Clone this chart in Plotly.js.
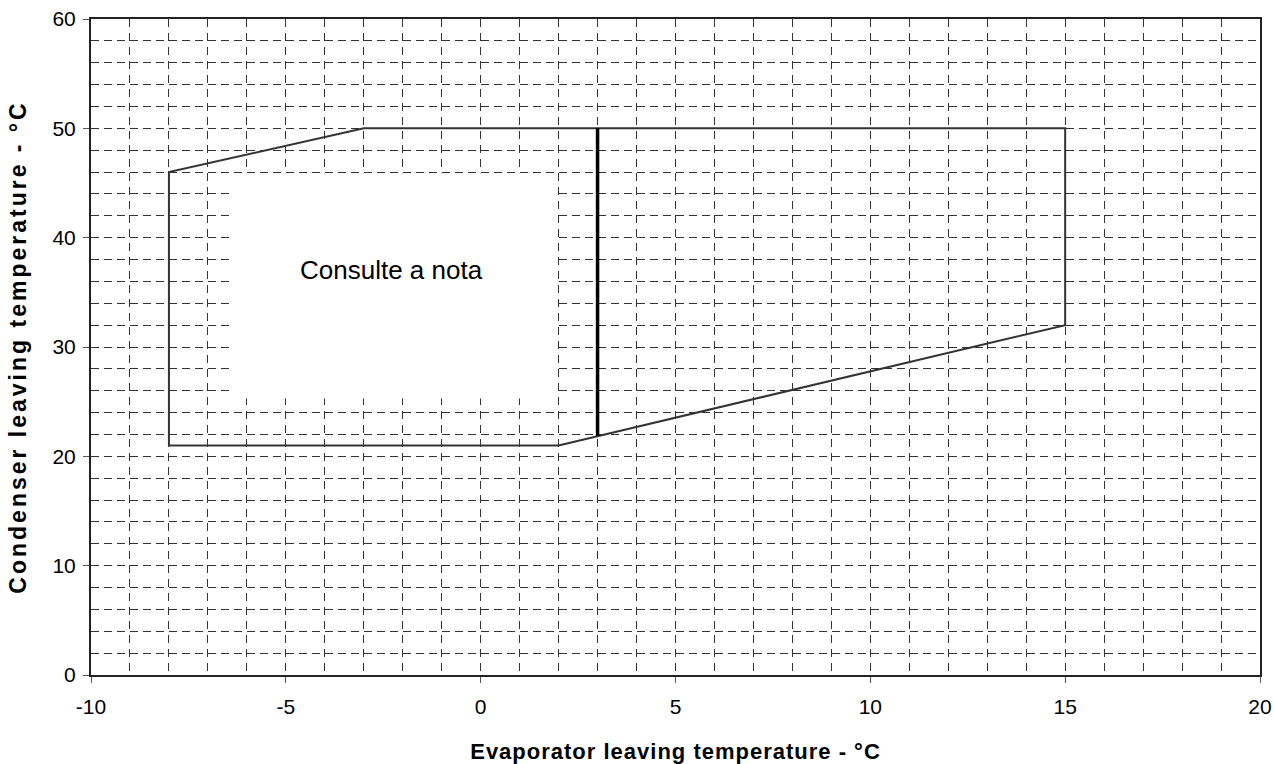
<!DOCTYPE html>
<html>
<head>
<meta charset="utf-8">
<script src="https://cdn.plot.ly/plotly-3.0.1.min.js"></script>
<style>
html,body{margin:0;padding:0;background:#fff;}
.xtitle{letter-spacing:1px;}
.ytitle{letter-spacing:3px;}
</style>
</head>
<body>
<div id="chart" style="width:1274px;height:764px;"></div>
<script>
// Operating envelope outline (evaporator °C, condenser °C)
const envelopeX = [-8, -8, -3, 15, 15, 2, -8];
const envelopeY = [21, 46, 50, 50, 32, 21, 21];
// Divider line at 3 °C
const dividerX = [3, 3];
const dividerY = [21.85, 50];
// Note label
const noteText = "Consulte a nota";
const noteX = -2.3;
const noteY = 37;
// White note box extents
const boxX = [-6.36, 1.93];
const boxY = [25.3, 45.9];
// Axis ranges & tick labels
const xRange = [-10, 20];
const yRange = [0, 60];
const xTicks = [-10, -5, 0, 5, 10, 15, 20];
const yTicks = [0, 10, 20, 30, 40, 50, 60];

const font = "Liberation Sans, Arial, sans-serif";

const traces = [
  {x: envelopeX, y: envelopeY, mode: 'lines', line: {color: '#333', width: 2}, hoverinfo: 'skip', showlegend: false},
  {x: dividerX, y: dividerY, mode: 'lines', line: {color: '#000', width: 3.5}, hoverinfo: 'skip', showlegend: false}
];

const layout = {
  width: 1274, height: 764,
  margin: {l: 91, r: 14, t: 19, b: 89},
  paper_bgcolor: '#fff', plot_bgcolor: '#fff',
  font: {family: font, color: '#000', size: 21},
  showlegend: false,
  xaxis: {
    range: xRange, tickvals: xTicks, ticktext: xTicks.map(String),
    showgrid: true, gridcolor: '#333', gridwidth: 1, griddash: '8px,6px',
    minor: {dtick: 1, tick0: 0, showgrid: true, gridcolor: '#333', gridwidth: 1, griddash: '8px,6px', ticks: ''},
    showline: true, linecolor: '#222', linewidth: 2, mirror: true,
    ticks: 'outside', ticklen: 6, tickcolor: '#555', tickwidth: 1,
    ticklabelstandoff: 6,
    zeroline: false,
    tickfont: {family: font, size: 21, color: '#000'},
    title: {text: 'Evaporator leaving temperature - °C', font: {family: font, size: 22, color: '#000', weight: 'bold'}, standoff: 30}
  },
  yaxis: {
    range: yRange, tickvals: yTicks, ticktext: yTicks.map(String),
    showgrid: true, gridcolor: '#333', gridwidth: 1, griddash: '8px,5px',
    minor: {dtick: 2, tick0: 0, showgrid: true, gridcolor: '#333', gridwidth: 1, griddash: '8px,5px', ticks: ''},
    showline: true, linecolor: '#222', linewidth: 2, mirror: true,
    ticks: 'outside', ticklen: 6, tickcolor: '#555', tickwidth: 1,
    ticklabelstandoff: 3,
    zeroline: false,
    tickfont: {family: font, size: 21, color: '#000'},
    title: {text: 'Condenser leaving temperature - °C', font: {family: font, size: 23, color: '#000', weight: 'bold'}, standoff: 19}
  },
  shapes: [
    {type: 'rect', xref: 'x', yref: 'y', x0: boxX[0], x1: boxX[1], y0: boxY[0], y1: boxY[1],
     fillcolor: '#fff', line: {width: 0}, layer: 'above'}
  ],
  annotations: [
    {x: noteX, y: noteY, xref: 'x', yref: 'y', text: noteText, showarrow: false,
     font: {family: font, size: 26, color: '#000'}}
  ]
};

Plotly.newPlot('chart', traces, layout, {displayModeBar: false, staticPlot: true});
</script>
</body>
</html>
